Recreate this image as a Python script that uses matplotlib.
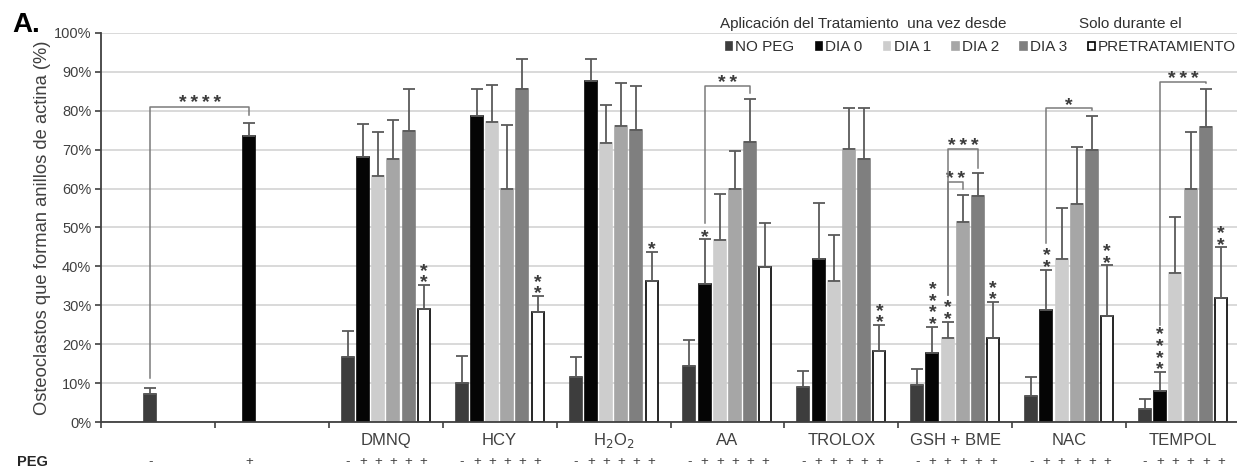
import matplotlib
matplotlib.use('Agg')
import matplotlib.pyplot as plt
import matplotlib.transforms as mtransforms
import numpy as np

plt.rcParams['font.family'] = ['Liberation Sans', 'DejaVu Sans']

# ---- data (%) ----
series = ['NO PEG', 'DIA 0', 'DIA 1', 'DIA 2', 'DIA 3', 'PRETRATAMIENTO']
treatments = ['DMNQ', 'HCY', 'H$_2$O$_2$', 'AA', 'TROLOX', 'GSH + BME', 'NAC', 'TEMPOL']

# the two control groups (no treatment): NO PEG and PEG at day 0
control_values = [7.1, 73.5]
control_err = [1.7, 3.3]
control_series = [0, 1]
control_peg = ['-', '+']

no_peg = [16.6, 9.9, 11.6, 14.5, 9.1, 9.5, 6.7, 3.3]
dia0 = [68.2, 78.7, 87.6, 35.6, 42.0, 17.8, 28.8, 8.0]
dia1 = [63.2, 77.0, 71.6, 46.7, 36.3, 21.7, 41.8, 38.2]
dia2 = [67.7, 59.8, 76.0, 59.8, 70.1, 51.5, 56.0, 59.8]
dia3 = [74.8, 85.7, 75.0, 72.0, 67.7, 58.1, 69.9, 75.9]
pre = [29.0, 28.3, 36.3, 39.9, 18.2, 21.5, 27.3, 32.0]

no_peg_err = [6.8, 7.1, 5.0, 6.7, 4.0, 4.1, 4.8, 2.6]
dia0_err = [8.5, 6.8, 5.6, 11.4, 14.3, 6.7, 10.4, 4.9]
dia1_err = [11.4, 9.6, 9.8, 12.0, 11.7, 4.1, 13.1, 14.4]
dia2_err = [10.0, 16.5, 11.2, 9.8, 10.5, 6.8, 14.7, 14.8]
dia3_err = [10.7, 7.5, 11.3, 11.0, 12.9, 5.8, 8.8, 9.8]
pre_err = [6.2, 4.1, 7.5, 11.3, 6.7, 9.4, 13.0, 12.9]

peg_signs = ['-', '+', '+', '+', '+', '+']

# significance stars stacked over single bars: (treatment, series, n stars)
bar_stars = [(0, 5, 2), (1, 5, 2), (2, 5, 1), (3, 1, 1), (4, 5, 2),
             (5, 1, 4), (5, 2, 2), (5, 5, 2), (6, 1, 2), (6, 5, 2),
             (7, 1, 4), (7, 5, 2)]
# brackets between bars of one treatment: (treatment, from, to, height, label)
brackets = [(3, 1, 4, 86.4, '**'), (5, 2, 3, 61.7, '**'), (5, 2, 4, 70.1, '***'),
            (6, 1, 4, 80.8, '*'), (7, 1, 4, 87.4, '***')]
control_bracket = (80.9, '****')

values = [no_peg, dia0, dia1, dia2, dia3, pre]
errors = [no_peg_err, dia0_err, dia1_err, dia2_err, dia3_err, pre_err]

# ---- style ----
colors = ['#3d3d3d', '#050505', '#cdcdcd', '#a6a6a6', '#7f7f7f', 'white']
err_color = '#5a5a5a'
star_color = '#3a3a3a'
line_color = '#7a7a7a'
STAR_FS = 14
STAR_STEP = 2.65   # % between stacked stars

W, H = 1237, 469
fig = plt.figure(figsize=(W / 100, H / 100), dpi=100)
ax = fig.add_axes([101 / W, 47 / H, (W - 101) / W, 389 / H])

step = 15.2 / 113.9      # distance between bars inside a group
bar_w = 12.0 / 113.9
offsets = (np.arange(len(series)) - 2.5) * step
control_slots = [2, 1]   # where the control bars sit inside their group

n_groups = 2 + len(treatments)
tx = np.arange(2, n_groups)


def xpos(group, slot):
    return group + offsets[slot]


# control bars
for g, (v, e, s, sl) in enumerate(zip(control_values, control_err, control_series, control_slots)):
    ax.bar(xpos(g, sl), v, width=bar_w, color=colors[s],
           edgecolor='black' if s == 5 else colors[s], linewidth=1.2, zorder=3)
    ax.errorbar(xpos(g, sl), v, yerr=[[0], [e]], fmt='none', ecolor=err_color,
                elinewidth=1.3, capsize=4, capthick=1.3, zorder=4)

# treatment bars
handles = []
for i, name in enumerate(series):
    b = ax.bar(tx + offsets[i], values[i], width=bar_w, color=colors[i],
               edgecolor='black' if i == 5 else colors[i], linewidth=1.2,
               zorder=3, label=name)
    handles.append(b)
    ax.errorbar(tx + offsets[i], values[i], yerr=[np.zeros(len(tx)), errors[i]],
                fmt='none', ecolor=err_color, elinewidth=1.3, capsize=4,
                capthick=1.3, zorder=4)


def stars_vertical(x, y, n):
    # one text, stars one above the other; y = centre of the lowest star
    px_step = STAR_STEP * 3.89 * 0.72          # % -> px -> pt
    ls = px_step / (0.905 * STAR_FS)
    ax.annotate('\n'.join('*' * n), xy=(x, y), xytext=(0, -0.79 * STAR_FS),
                textcoords='offset points', ha='center', va='bottom',
                fontsize=STAR_FS, fontweight='bold', color=star_color,
                linespacing=ls, zorder=5)


def stars_horizontal(x, y, n):
    ax.annotate('\u2009'.join('*' * n), xy=(x, y), xytext=(0, -0.58 * STAR_FS),
                textcoords='offset points', ha='center', va='baseline',
                fontsize=STAR_FS, fontweight='bold', color=star_color, zorder=5)


def top_of(t, s):
    return values[s][t] + errors[s][t]


def stack_top(t, s):
    n = sum(k for tt, ss, k in bar_stars if tt == t and ss == s)
    return top_of(t, s) + 1.5 + n * STAR_STEP


for t, s, n in bar_stars:
    stars_vertical(tx[t] + offsets[s], top_of(t, s) + 2.3, n)

for t, s0, s1, h, lab in brackets:
    x0, x1 = tx[t] + offsets[s0], tx[t] + offsets[s1]
    ax.plot([x0, x0, x1, x1], [stack_top(t, s0), h, h, stack_top(t, s1)],
            color=line_color, lw=1.1, zorder=5)
    stars_horizontal((x0 + x1) / 2, h + 2.4, len(lab))

# control bracket
h, lab = control_bracket
x0, x1 = xpos(0, control_slots[0]), xpos(1, control_slots[1])
ax.plot([x0, x0, x1, x1],
        [control_values[0] + control_err[0] + 2.5, h, h, control_values[1] + control_err[1] + 2.0],
        color=line_color, lw=1.1, zorder=5)
stars_horizontal((x0 + x1) / 2, h + 2.6, len(lab))

# ---- axes ----
ax.set_xlim(-0.5, -0.5 + (W - 101) / 113.9)
ax.set_ylim(0, 100)
ax.set_yticks(np.arange(0, 101, 10))
ax.set_yticklabels([f'{v}%' for v in range(0, 101, 10)], fontsize=10.5, color='#404040')
ax.set_xticks(np.arange(-0.5, n_groups - 1))
ax.set_xticklabels([])
ax.tick_params(axis='x', direction='out', length=4, width=1.2, color='#404040')
ax.tick_params(axis='y', direction='out', length=4, width=1.2, color='#404040', pad=3)
ax.yaxis.grid(True, color='#d9d9d9', lw=1.4, zorder=0)
ax.set_axisbelow(True)
for sp in ['top', 'right']:
    ax.spines[sp].set_visible(False)
for sp in ['left', 'bottom']:
    ax.spines[sp].set_color('#404040')
    ax.spines[sp].set_linewidth(1.3)
ax.spines['left'].set_zorder(6)
ax.spines['bottom'].set_zorder(6)

ax.set_ylabel('Osteoclastos que forman anillos de actina (%)', fontsize=13.2,
              color='#404040', labelpad=2)

# category names and PEG row
trans = mtransforms.blended_transform_factory(ax.transData, ax.transAxes)
for t, name in zip(tx, treatments):
    ax.text(t, -0.047, name, transform=trans, ha='center', va='center',
            fontsize=12, color='#404040')
    for s, sign in enumerate(peg_signs):
        ax.text(t + offsets[s], -0.103, sign, transform=trans, ha='center',
                va='center', fontsize=9.5, color='#404040')
for g, (sign, sl) in enumerate(zip(control_peg, control_slots)):
    ax.text(xpos(g, sl), -0.103, sign, transform=trans, ha='center',
            va='center', fontsize=9.5, color='#404040')
fig.text(32 / W, 1 - 462 / H, 'PEG', ha='center', va='center', fontsize=10.5,
         fontweight='bold', color='#262626')

fig.text(12 / W, 1 - 25 / H, 'A.', ha='left', va='center', fontsize=20,
         fontweight='bold')

# legend
fig.text(720 / W, 1 - 24 / H, 'Aplicación del Tratamiento  una vez desde',
         ha='left', va='center', fontsize=11, color='#303030')
fig.text(1079 / W, 1 - 24 / H, 'Solo durante el', ha='left', va='center',
         fontsize=11, color='#303030')
fig.legend(handles=handles, labels=series, ncol=6, loc='center',
           bbox_to_anchor=(981 / W, 1 - 47 / H), frameon=False, fontsize=11,
           handlelength=0.42, handleheight=0.42, handletextpad=0.2,
           columnspacing=1.4, borderpad=0, labelcolor='#303030')

fig.savefig('out.png', dpi=100)
